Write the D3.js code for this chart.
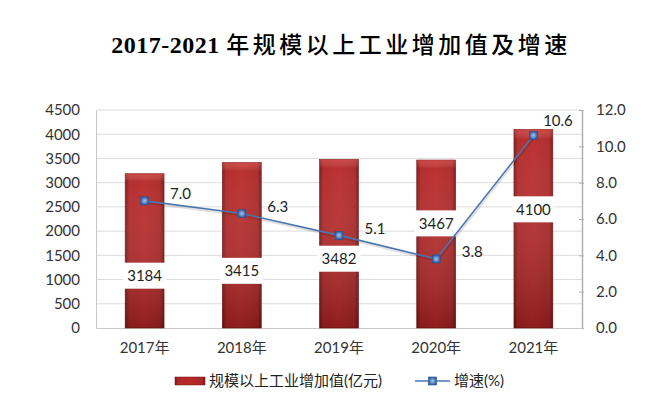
<!DOCTYPE html>
<html>
<head>
<meta charset="utf-8">
<script src="https://cdn.jsdelivr.net/npm/d3@7"></script>
<style>
  body { margin: 0; background: #fff; }
  text { font-family: Lato, "Noto Sans CJK SC", sans-serif; }
</style>
</head>
<body>
<div id="chart"></div>
<script>
// Chart data
var years = ["2017年", "2018年", "2019年", "2020年", "2021年"];
var addedValue = [3184, 3415, 3482, 3467, 4100];   // 亿元
var growthRate = [7.0, 6.3, 5.1, 3.8, 10.6];       // %
var leftTicks = [0, 500, 1000, 1500, 2000, 2500, 3000, 3500, 4000, 4500];
var rightTicks = [0, 2, 4, 6, 8, 10, 12];
// where the white value boxes sit on each bar (in 亿元)
var barLabelAt = [1080, 1180, 1430, 2160, 2450];

var svgWidth = 670;
var svgHeight = 399;

var margin = { top: 110, right: 88, bottom: 71, left: 96 };
var width = svgWidth - margin.left - margin.right;
var height = svgHeight - margin.top - margin.bottom;

var svg = d3.select("#chart")
    .append("svg")
    .attr("width", svgWidth)
    .attr("height", svgHeight);

// Gradients for bars and markers
var defs = svg.append("defs");

var barGrad = defs.append("linearGradient")
    .attr("id", "barGrad")
    .attr("x1", 0).attr("x2", 1).attr("y1", 0).attr("y2", 0);
barGrad.append("stop").attr("offset", "0%").attr("stop-color", "#7a1616");
barGrad.append("stop").attr("offset", "10%").attr("stop-color", "#b02626");
barGrad.append("stop").attr("offset", "50%").attr("stop-color", "#b82a29");
barGrad.append("stop").attr("offset", "90%").attr("stop-color", "#ac2626");
barGrad.append("stop").attr("offset", "100%").attr("stop-color", "#7a1616");

var shadeGrad = defs.append("linearGradient")
    .attr("id", "shadeGrad")
    .attr("x1", 0).attr("x2", 0).attr("y1", 0).attr("y2", 1);
shadeGrad.append("stop").attr("offset", "0%").attr("stop-color", "#ff7a70").attr("stop-opacity", 0.35);
shadeGrad.append("stop").attr("offset", "5%").attr("stop-color", "#ffffff").attr("stop-opacity", 0.04);
shadeGrad.append("stop").attr("offset", "100%").attr("stop-color", "#2a0000").attr("stop-opacity", 0.3);

var markGrad = defs.append("radialGradient").attr("id", "markGrad");
markGrad.append("stop").attr("offset", "0%").attr("stop-color", "#a9c6ee");
markGrad.append("stop").attr("offset", "100%").attr("stop-color", "#2f5fa8");

var chartGroup = svg.append("g")
    .attr("transform", `translate(${margin.left}, ${margin.top})`);

// Scales
var xBandScale = d3.scaleBand()
    .domain(years)
    .range([0, width])
    .paddingInner(0.6)
    .paddingOuter(0.3);

var xPoint = d => xBandScale(d) + xBandScale.bandwidth() / 2;

var yLeftScale = d3.scaleLinear()
    .domain([0, 4500])
    .range([height, 0]);

var yRightScale = d3.scaleLinear()
    .domain([0, 12])
    .range([height, 0]);

// Gridlines
chartGroup.append("g")
    .selectAll("line")
    .data(leftTicks.slice(1))
    .enter()
    .append("line")
    .attr("x1", 0)
    .attr("x2", width)
    .attr("y1", d => yLeftScale(d))
    .attr("y2", d => yLeftScale(d))
    .attr("stroke", "#dcdcdc")
    .attr("stroke-width", 1);

// Left axis
var leftAxis = d3.axisLeft(yLeftScale)
    .tickValues(leftTicks)
    .tickFormat(d3.format("d"))
    .tickSize(0)
    .tickPadding(16);

var leftG = chartGroup.append("g").call(leftAxis);
leftG.select(".domain").attr("stroke", "#c8c8c8");
leftG.selectAll("text")
    .attr("font-size", "15px")
    .attr("fill", "#333");

// Right axis
var rightAxis = d3.axisRight(yRightScale)
    .tickValues(rightTicks)
    .tickFormat(d3.format(".1f"))
    .tickSize(0)
    .tickPadding(14);

var rightG = chartGroup.append("g")
    .attr("transform", `translate(${width}, 0)`)
    .call(rightAxis);
rightG.select(".domain").attr("stroke", "#b0b0b0").attr("stroke-width", 1.5);
rightG.selectAll("text")
    .attr("font-size", "15px")
    .attr("fill", "#333");
rightG.selectAll(".tick")
    .append("line")
    .attr("x1", -3)
    .attr("x2", 2)
    .attr("stroke", "#b0b0b0");

// Bottom axis
var bottomAxis = d3.axisBottom(xBandScale)
    .tickSize(0)
    .tickPadding(14);

var bottomG = chartGroup.append("g")
    .attr("transform", `translate(0, ${height})`)
    .call(bottomAxis);
bottomG.select(".domain").attr("stroke", "#c8c8c8");
bottomG.selectAll("text")
    .attr("font-size", "15px")
    .attr("fill", "#333");

// Bars
var barGroup = chartGroup.append("g");

barGroup.selectAll(".bar")
    .data(addedValue)
    .enter()
    .append("rect")
    .classed("bar", true)
    .attr("x", (d, i) => xBandScale(years[i]))
    .attr("y", d => yLeftScale(d))
    .attr("width", xBandScale.bandwidth())
    .attr("height", d => height - yLeftScale(d))
    .attr("fill", "url(#barGrad)")
    .attr("stroke", "#6e1515")
    .attr("stroke-width", 0.6);

barGroup.selectAll(".bar-shade")
    .data(addedValue)
    .enter()
    .append("rect")
    .attr("x", (d, i) => xBandScale(years[i]))
    .attr("y", d => yLeftScale(d))
    .attr("width", xBandScale.bandwidth())
    .attr("height", d => height - yLeftScale(d))
    .attr("fill", "url(#shadeGrad)");

// Bar value labels (white boxes)
var boxW = xBandScale.bandwidth() + 4;
var boxH = 26;

var barLabels = chartGroup.append("g")
    .selectAll("g")
    .data(addedValue)
    .enter()
    .append("g")
    .attr("transform", (d, i) => `translate(${xPoint(years[i])}, ${yLeftScale(barLabelAt[i])})`);

barLabels.append("rect")
    .attr("x", -boxW / 2)
    .attr("y", -boxH / 2)
    .attr("width", boxW)
    .attr("height", boxH)
    .attr("fill", "#fff");

barLabels.append("text")
    .attr("text-anchor", "middle")
    .attr("dy", "0.36em")
    .attr("font-size", "15px")
    .attr("fill", "#222")
    .text(d => d);

// Growth line
var line = d3.line()
    .x((d, i) => xPoint(years[i]))
    .y(d => yRightScale(d));

chartGroup.append("path")
    .datum(growthRate)
    .attr("d", line)
    .attr("transform", "translate(1, 2)")
    .attr("fill", "none")
    .attr("stroke", "#000")
    .attr("stroke-opacity", 0.12)
    .attr("stroke-width", 2);

chartGroup.append("path")
    .datum(growthRate)
    .attr("d", line)
    .attr("fill", "none")
    .attr("stroke", "#4a76b0")
    .attr("stroke-width", 1.6);

chartGroup.selectAll(".marker")
    .data(growthRate)
    .enter()
    .append("rect")
    .classed("marker", true)
    .attr("x", (d, i) => xPoint(years[i]) - 4)
    .attr("y", d => yRightScale(d) - 4)
    .attr("width", 8)
    .attr("height", 8)
    .attr("fill", "url(#markGrad)")
    .attr("stroke", "#2a4f8a")
    .attr("stroke-width", 0.6);

// Growth labels (pulled back in and up when they would hit the right axis)
var labelX = i => xPoint(years[i]) + 36;

chartGroup.selectAll(".rate-label")
    .data(growthRate)
    .enter()
    .append("text")
    .classed("rate-label", true)
    .attr("x", (d, i) => Math.min(labelX(i), width - 24))
    .attr("y", (d, i) => yRightScale(d) - (labelX(i) > width - 24 ? 15 : 7))
    .attr("dy", "0.36em")
    .attr("text-anchor", "middle")
    .attr("font-size", "15px")
    .attr("fill", "#222")
    .text(d => d3.format(".1f")(d));

// Title
var title = svg.append("text")
    .attr("x", svgWidth / 2 + 6)
    .attr("y", 53)
    .attr("text-anchor", "middle")
    .attr("fill", "#000");

title.append("tspan")
    .style("font-family", "'Liberation Serif', serif")
    .attr("font-size", "24px")
    .attr("font-weight", "bold")
    .attr("letter-spacing", "0.5px")
    .text("2017-2021 ");

title.append("tspan")
    .style("font-family", "'Noto Sans CJK SC', sans-serif")
    .attr("font-size", "23px")
    .attr("font-weight", "500")
    .attr("letter-spacing", "3.5px")
    .text("年规模以上工业增加值及增速");

// Legend
var legend = svg.append("g")
    .attr("transform", "translate(175, 381)");

legend.append("rect")
    .attr("x", 0)
    .attr("y", -4)
    .attr("width", 30)
    .attr("height", 8)
    .attr("fill", "url(#barGrad)")
    .attr("stroke", "#6e1515")
    .attr("stroke-width", 0.5);

legend.append("text")
    .attr("x", 34)
    .attr("dy", "0.36em")
    .attr("font-size", "15px")
    .attr("fill", "#222")
    .text("规模以上工业增加值(亿元)");

legend.append("line")
    .attr("x1", 240)
    .attr("x2", 275)
    .attr("stroke", "#4a76b0")
    .attr("stroke-width", 1.6);

legend.append("rect")
    .attr("x", 253.5)
    .attr("y", -4)
    .attr("width", 8)
    .attr("height", 8)
    .attr("fill", "url(#markGrad)")
    .attr("stroke", "#2a4f8a")
    .attr("stroke-width", 0.6);

legend.append("text")
    .attr("x", 279)
    .attr("dy", "0.36em")
    .attr("font-size", "15px")
    .attr("fill", "#222")
    .text("增速(%)");
</script>
</body>
</html>
